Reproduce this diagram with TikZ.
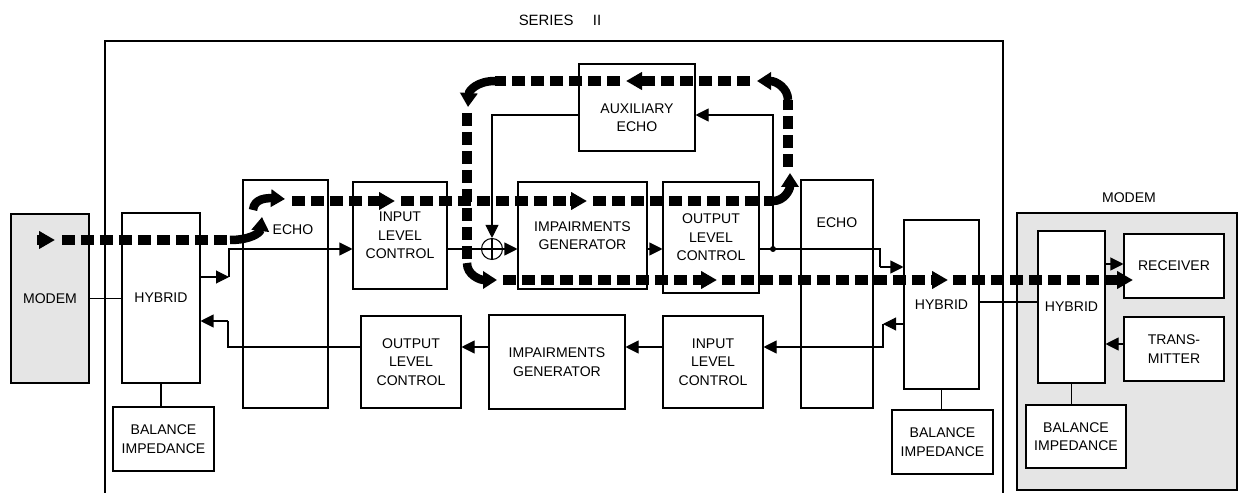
\documentclass[tikz,border=0pt]{standalone}
\usepackage{fontspec}
\setmainfont{Liberation Sans}
\usetikzlibrary{arrows.meta}
\definecolor{modemgray}{RGB}{229,229,229}

\begin{document}
\begin{tikzpicture}[x=0.02cm, y=-0.02cm, >={Triangle[length=0.26cm,width=0.26cm]},
    font=\fontsize{8}{10.5}\selectfont,
    sig/.style={line width=0.6pt},
    box/.style={draw, sig, fill=white, align=center, inner sep=1pt},
    sz/.style 2 args={minimum width=#1*0.02cm, minimum height=#2*0.02cm},
    flow/.style={line width=0.19cm, dash pattern=on 0.26cm off 0.12cm},
    flowhead/.style={line width=0.19cm, -{Triangle[length=0.32cm,width=0.34cm]}},
    bendhead/.style={line width=0.17cm, -{Triangle[length=0.28cm,width=0.34cm]}}]
    \useasboundingbox (0,0) rectangle (1238,493);

    % frames
    \node (title) at (560,20) {\fontsize{8.5}{10}\selectfont SERIES\hspace{1.3em}II};
    \draw[sig] (105,493) |- (1003,41) -- (1003,493);
    \draw[sig, fill=modemgray] (1017,213) rectangle (1237,490);
    \node (modemlbl) at (1129,198) {MODEM};

    % left modem and hybrid
    \node[box, fill=modemgray, sz={78}{169}] (modemL) at (50,298.5) {MODEM};
    \node[box, sz={78}{170}] (hybridL) at (161,298) {HYBRID};
    \node[box, sz={101}{64}] (balanceL) at (163.5,439) {BALANCE\\IMPEDANCE};
    \node[draw, sig, sz={85}{228}] (echoL) at (285.5,294) {};
    \node (echoLtxt) at (293,230) {ECHO};

    % upper chain
    \node[box, sz={94}{107}] (inlevelA) at (400,235.5) {INPUT\\LEVEL\\CONTROL};
    \node[draw, sig, circle, inner sep=0pt, minimum size=21*0.02cm,
      path picture={\draw[sig] (path picture bounding box.north) -- (path picture bounding box.south)
        (path picture bounding box.west) -- (path picture bounding box.east);}] (sum) at (492,249) {};
    \node[box, sz={129}{107}] (impairA) at (582.5,235.5) {IMPAIRMENTS\\GENERATOR};
    \node[box, sz={96}{111}] (outlevelA) at (711,237.5) {OUTPUT\\LEVEL\\CONTROL};
    \node[box, sz={116}{87}] (auxecho) at (637,107.5) {};
    \node[align=center] (auxtxt) at (637,117.5) {AUXILIARY\\ECHO};

    % lower chain
    \node[box, sz={100}{92}] (outlevelB) at (411,362) {OUTPUT\\LEVEL\\CONTROL};
    \node[box, sz={136}{94}] (impairB) at (557,362) {IMPAIRMENTS\\GENERATOR};
    \node[box, sz={100}{92}] (inlevelB) at (713,362) {INPUT\\LEVEL\\CONTROL};

    % right echo and hybrid
    \node[draw, sig, sz={72}{228}] (echoR) at (837,294) {};
    \node (echoRtxt) at (837,223) {ECHO};
    \node[box, sz={75}{169}] (hybridR) at (941.5,304.5) {HYBRID};
    \node[box, sz={101}{64}] (balanceR) at (942.5,442) {BALANCE\\IMPEDANCE};

    % modem on the right
    \node[box, sz={67}{152}] (hybridM) at (1071.5,307) {HYBRID};
    \node[box, sz={100}{64}] (receiver) at (1174,266) {RECEIVER};
    \node[box, sz={100}{64}] (transmitter) at (1174,349) {TRANS-\\MITTER};
    \node[box, sz={100}{63}] (balanceM) at (1076,436.5) {BALANCE\\IMPEDANCE};

    % levels and corners
    \coordinate (upper) at (0,249);
    \coordinate (lower) at (0,347);
    \coordinate (auxlvl) at (0,115);
    \coordinate (link) at (0,302);
    \coordinate (jL1) at (229,277);
    \coordinate (jL2) at (228,321);
    \coordinate (dot) at (773,249);
    \coordinate (jR1) at (880,267);
    \coordinate (jR2) at (883,324);

    % signal lines
    \draw[sig] (modemL.east) -- (modemL.east -| hybridL.west);
    \draw[sig] (hybridL.south) -- (hybridL.south |- balanceL.north);
    \draw[sig,->] (hybridL.east |- jL1) -- (jL1);
    \draw[sig,->] (jL1) |- (inlevelA.west |- upper);
    \draw[sig] (inlevelA.east |- upper) -- (sum.west);
    \draw[sig,->] (sum.east) -- (impairA.west |- sum);
    \draw[sig,->] (impairA.east |- upper) -- (outlevelA.west |- upper);
    \draw[sig] (outlevelA.east |- upper) -- (dot) -- (dot -| jR1) -- (jR1);
    \draw[sig,->] (jR1) -- (hybridR.west |- jR1);
    \fill (dot) circle[radius=1.7pt];
    \draw[sig,->] (dot) |- (auxecho.east |- auxlvl);
    \draw[sig,->] (auxecho.west |- auxlvl) -| (sum.north);
    \draw[sig,->] (hybridR.west |- jR2) -- (jR2);
    \draw[sig,->] (jR2) |- (inlevelB.east |- lower);
    \draw[sig,->] (inlevelB.west |- lower) -- (impairB.east |- lower);
    \draw[sig,->] (impairB.west |- lower) -- (outlevelB.east |- lower);
    \draw[sig] (outlevelB.west |- lower) -| (jL2);
    \draw[sig,->] (jL2) -- (hybridL.east |- jL2);
    \draw[sig] (hybridR.south) -- (hybridR.south |- balanceR.north);
    \draw[sig] (hybridR.east |- link) -- (hybridM.west |- link);
    \draw[sig,->] (hybridM.east |- 0,264) -- (receiver.west |- 0,264);
    \draw[sig,->] (transmitter.west |- 0,344) -- (hybridM.east |- 0,344);
    \draw[sig] (hybridM.south) -- (hybridM.south |- balanceM.north);

    % echo path
    \draw[flowhead] (37,240) -- (55,240);
    \draw[flow] (62,240) -- (230,240);
    \draw[bendhead] (230,240) .. controls (250,240) and (260,233) .. (262,217);
    \draw[bendhead] (253,210) .. controls (254,198) and (268,198) .. (285,199);
    \draw[flow] (292,201) -- (378,201);
    \draw[flowhead] (378,201) -- (395,201);
    \draw[flow] (401,201) -- (570,201);
    \draw[flowhead] (570,201) -- (587,201);
    \draw[flow] (593,201) -- (773,201);
    \draw[bendhead] (773,201) .. controls (784,201) and (790,190) .. (790,173);
    \draw[flow] (788,167) -- (788,100);
    \draw[bendhead] (788,100) .. controls (788,88) and (776,81) .. (757,81);
    \draw[flow] (750,81) -- (643,81);
    \draw[flowhead] (643,81) -- (626,81);
    \draw[flow] (620,81) -- (495,81);
    \draw[bendhead] (495,81) .. controls (478,81) and (469,90) .. (468,107);
    \draw[flow] (467,113) -- (467,263);
    \draw[bendhead] (467,263) .. controls (467,275) and (480,280) .. (497,280);
    \draw[flow] (503,280) -- (700,280);
    \draw[flowhead] (700,280) -- (717,280);
    \draw[flow] (722,280) -- (931,280);
    \draw[flowhead] (931,280) -- (948,280);
    \draw[flow] (953,280) -- (1113,280);
    \draw[flowhead] (1113,280) -- (1133,280);
  \end{tikzpicture}
\end{document}
